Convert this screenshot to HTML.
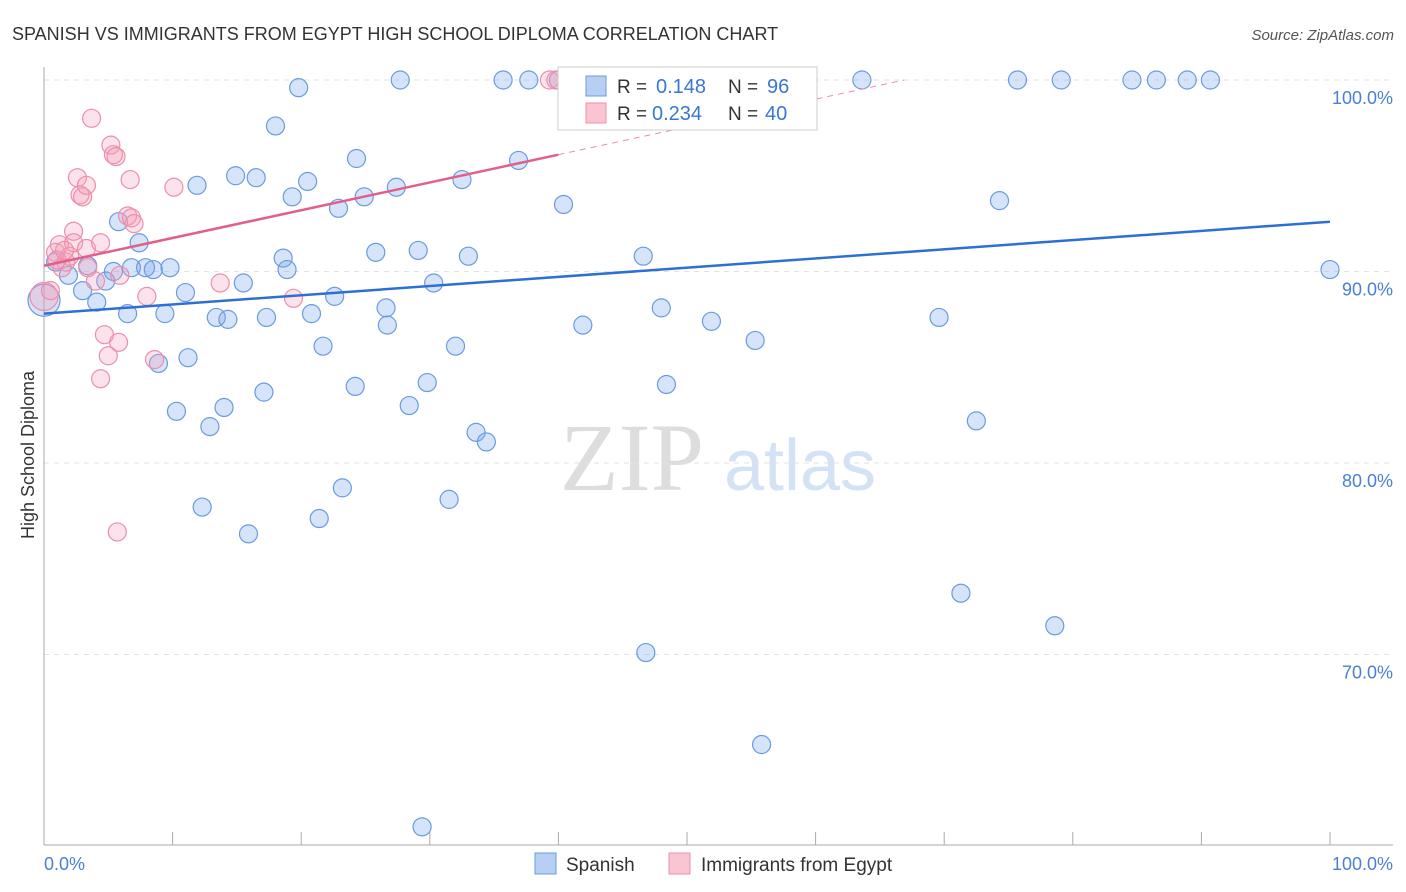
<!DOCTYPE html>
<html><head><meta charset="utf-8"><style>
body{margin:0;background:#fff;font-family:"Liberation Sans",sans-serif}
svg{display:block}
</style></head><body>
<svg id="chart" width="1406" height="892">
<text x="12" y="40" font-size="18" fill="#333">SPANISH VS IMMIGRANTS FROM EGYPT HIGH SCHOOL DIPLOMA CORRELATION CHART</text>
<text x="1394" y="40" font-size="15" fill="#555" font-style="italic" text-anchor="end">Source: ZipAtlas.com</text>
<text x="632" y="490" font-size="96" fill="#ddd" font-family="Liberation Serif,serif" text-anchor="middle">ZIP</text>
<text x="800" y="490" font-size="72" fill="#d4e2f5" text-anchor="middle">atlas</text>
<g id="grid"></g><g id="axes"></g><g id="pts"></g><g id="trends"></g>
<text transform="translate(34,455) rotate(-90)" font-size="18" fill="#333" text-anchor="middle">High School Diploma</text>
<text x="44" y="870" font-size="18" fill="#4a7fd4">0.0%</text>
<text x="1393" y="870" font-size="18" fill="#4a7fd4" text-anchor="end">100.0%</text>
<g>
<rect x="558" y="67" width="259" height="63" fill="#fff" stroke="#ccc"/>
<rect x="586" y="76" width="20" height="20" fill="#b7cff2" stroke="#6a9be0"/>
<rect x="586" y="103" width="20" height="20" fill="#f9c5d3" stroke="#ec8fab"/>
<text x="617" y="93" font-size="19" fill="#333">R =</text>
<text x="656" y="93" font-size="20" fill="#3a78d0">0.148</text>
<text x="728" y="93" font-size="19" fill="#333">N =</text>
<text x="767" y="93" font-size="20" fill="#3a78d0">96</text>
<text x="617" y="120" font-size="19" fill="#333">R =</text>
<text x="652" y="120" font-size="20" fill="#3a78d0">0.234</text>
<text x="728" y="120" font-size="19" fill="#333">N =</text>
<text x="765" y="120" font-size="20" fill="#3a78d0">40</text>
</g>
<g>
<rect x="535" y="853" width="21" height="21" fill="#b7cff2" stroke="#6a9be0"/>
<text x="566" y="871" font-size="19" fill="#333">Spanish</text>
<rect x="669" y="853" width="21" height="21" fill="#f9c5d3" stroke="#ec8fab"/>
<text x="701" y="871" font-size="19" fill="#333">Immigrants from Egypt</text>
</g>
</svg>
<script>
const yTicks=[70,80,90,100];
const yTickLabels=["70.0%","80.0%","90.0%","100.0%"];
const xTicks=[0,10,20,30,40,50,60,70,80,90,100];
const spanishX=[0,0.9,3.4,1.9,3.0,4.1,5.4,4.8,5.8,6.5,7.4,6.8,7.9,8.5,9.8,8.9,9.4,10.3,11.0,11.2,11.9,12.3,12.9,13.4,14.0,14.3,14.9,15.5,15.9,16.5,17.1,17.3,18.0,18.6,18.9,19.3,19.8,20.5,20.8,21.4,21.7,22.6,22.9,23.2,24.2,24.3,24.9,25.8,26.6,26.7,27.4,27.7,28.4,29.1,29.4,29.8,30.3,31.5,32.0,32.5,33.0,33.6,34.4,35.7,36.9,37.7,40.0,40.4,41.9,46.6,46.8,48.0,48.4,51.3,51.9,52.3,55.3,55.8,56.3,63.6,69.6,71.3,72.5,74.3,75.7,78.6,79.1,84.6,86.5,88.9,90.7,100];
const spanishY=[88.5,90.5,90.3,89.8,89.0,88.4,90.0,89.5,92.6,87.8,91.5,90.2,90.2,90.1,90.2,85.2,87.8,82.7,88.9,85.5,94.5,77.7,81.9,87.6,82.9,87.5,95.0,89.4,76.3,94.9,83.7,87.6,97.6,90.7,90.1,93.9,99.6,94.7,87.8,77.1,86.1,88.7,93.3,78.7,84.0,95.9,93.9,91.0,88.1,87.2,94.4,100,83.0,91.1,61.0,84.2,89.4,78.1,86.1,94.8,90.8,81.6,81.1,100,95.8,100,100,93.5,87.2,90.8,70.1,88.1,84.1,100,87.4,100,86.4,65.3,100,100,87.6,73.2,82.2,93.7,100,71.5,100,100,100,100,100,90.1];
const egyptX=[0,0.9,1.2,1.7,2.0,2.3,2.3,2.6,2.8,3.0,3.3,3.3,3.7,4.0,4.4,4.4,4.7,5.0,5.2,5.4,5.6,5.8,5.9,5.7,6.5,6.7,6.8,7.0,8.0,8.6,10.1,13.7,19.4,39.3,39.8,1.4,0.5,1.0,1.6,3.4];
const egyptY=[88.7,91.0,91.4,90.5,90.8,92.1,91.5,94.9,94.0,93.9,94.5,91.2,98.0,89.5,84.4,91.5,86.7,85.6,96.6,96.1,96.0,86.3,89.8,76.4,92.9,94.8,92.8,92.5,88.7,85.4,94.4,89.4,88.6,100,100,90.2,89.0,90.6,91.1,90.2];
const blueTrend=[87.8,92.6];
const pinkTrend=[90.3,96.1];
const NS="http://www.w3.org/2000/svg";
const X=v=>44+v*12.86;
const Y=v=>271.5-(v-90)*19.15;
function mk(t,a,p){const e=document.createElementNS(NS,t);for(const k in a)e.setAttribute(k,a[k]);document.getElementById(p).appendChild(e);return e;}
yTicks.forEach((t,i)=>{
 const l=mk('line',{x1:44,x2:1393,y1:Y(t),y2:Y(t),stroke:'#e2e2e2','stroke-dasharray':'5,5'},'grid');
 
 
 const tx=mk('text',{x:1393,y:Y(t)+24,'font-size':18,fill:'#4a7fd4','text-anchor':'end'},'grid');
 tx.textContent=yTickLabels[i];
 
 
});
const ax=mk('line',{x1:44,x2:44,y1:67,y2:845,stroke:'#aaa'},'axes');


const bx=mk('line',{x1:44,x2:1393,y1:845,y2:845,stroke:'#aaa'},'axes');


xTicks.forEach(t=>{
 const l=mk('line',{x1:X(t),x2:X(t),y1:832,y2:845,stroke:'#aaa'},'axes');
 
 
});
spanishX.forEach((x,i)=>{
 const c=mk('circle',{cx:X(x),cy:Y(spanishY[i]),r:i===0?16:9,fill:'rgba(120,165,235,0.3)',stroke:'#6a9be0','stroke-width':1.2},'pts');
 
 
});
egyptX.forEach((x,i)=>{
 const c=mk('circle',{cx:X(x),cy:Y(egyptY[i]),r:i===0?14:9,fill:'rgba(245,160,185,0.3)',stroke:'#ec8fab','stroke-width':1.2},'pts');
 
 
});
const bl=mk('line',{x1:X(0),y1:Y(blueTrend[0]),x2:X(100),y2:Y(blueTrend[1]),stroke:'#2e6fd4','stroke-width':2.5},'trends');


const pl=mk('line',{x1:X(0),y1:Y(pinkTrend[0]),x2:X(40),y2:Y(pinkTrend[1]),stroke:'#e0608a','stroke-width':2.5},'trends');


const slope=(pinkTrend[1]-pinkTrend[0])/40;
const xe=(100-pinkTrend[0])/slope;
const pd=mk('line',{x1:X(40),y1:Y(pinkTrend[1]),x2:X(xe),y2:Y(100),stroke:'#e890ab','stroke-width':1,'stroke-dasharray':'6,5'},'trends');


</script>
</body></html>
